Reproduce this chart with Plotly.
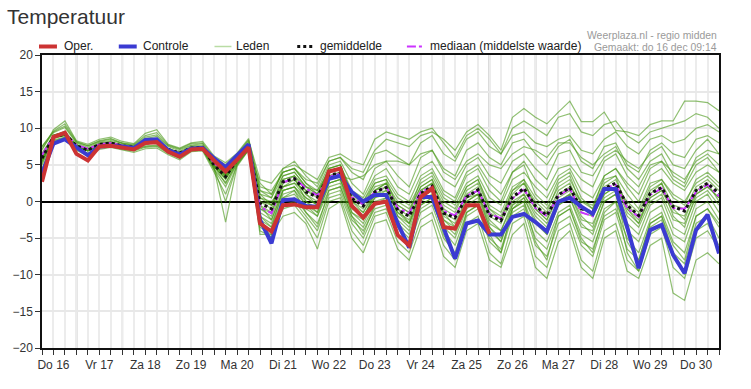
import plotly.graph_objects as go
import pandas as pd

# ---------------- data ----------------
dagen = ["Do 16", "Vr 17", "Za 18", "Zo 19", "Ma 20", "Di 21", "Wo 22", "Do 23",
         "Vr 24", "Za 25", "Zo 26", "Ma 27", "Di 28", "Wo 29", "Do 30"]
tijd = pd.date_range("2021-12-16 06:00", periods=60, freq="6h")
middag = pd.date_range("2021-12-16 12:00", periods=15, freq="D")
middernacht = pd.date_range("2021-12-17 00:00", periods=14, freq="D")

oper = [2.7, 8.8, 9.4, 6.5, 5.6, 7.5, 7.6, 7.4, 7.1, 8.0, 8.1, 6.8, 6.1, 7.1, 7.2, 5.6, 4.1, 5.7, 7.4,
        -3.0, -4.1, -0.5, -0.4, -0.8, -0.8, 4.1, 4.5, -0.6, -2.2, -0.3, 0.0, -4.6, -6.0, 0.6, 1.8,
        -3.5, -3.7, -0.5, -0.5, -4.4]
controle = [3.8, 7.9, 8.5, 7.4, 6.3, 7.5, 7.6, 7.5, 7.3, 8.4, 8.5, 7.0, 6.4, 7.2, 7.3, 5.9, 4.7, 6.3, 7.8,
            -2.5, -5.7, 0.2, 0.3, -0.6, -0.7, 3.1, 3.5, 1.3, 0.0, 0.9, 0.9, -3.0, -6.3, 0.6, 0.6,
            -3.6, -7.8, -3.0, -2.6, -4.5, -4.5, -2.1, -1.7, -2.8, -4.1, 0.0, 0.5, -0.7, -1.7, 1.7, 1.7,
            -3.5, -9.1, -3.9, -3.2, -7.3, -9.8, -3.9, -1.8, -7.1]
gemiddelde = [5.9, 8.8, 9.2, 7.6, 7.0, 7.8, 8.0, 7.6, 7.4, 8.0, 8.1, 7.1, 6.6, 7.3, 7.4, 5.0, 3.4, 5.7, 7.5,
              -0.2, -1.0, 2.7, 3.1, 1.3, 0.6, 3.6, 3.9, 0.4, -0.6, 1.3, 1.9, -1.2, -2.0, 1.1, 2.1,
              -1.6, -2.2, 0.6, 1.6, -1.9, -2.6, 0.6, 1.8, -0.6, -1.9, 0.9, 1.9, -1.0, -1.5, 1.8, 2.5,
              -0.5, -1.9, 1.1, 1.9, -0.7, -1.3, 1.5, 2.5, 1.1]
mediaan = [6.3, 8.9, 9.3, 7.7, 7.2, 7.8, 8.0, 7.6, 7.4, 8.0, 8.1, 7.0, 6.6, 7.3, 7.4, 5.2, 4.0, 5.8, 7.6,
           -0.7, -1.6, 2.6, 3.2, 1.8, 0.8, 3.4, 3.8, 0.6, -0.4, 1.3, 2.0, -0.9, -1.6, 1.3, 2.0,
           -1.3, -1.9, 0.8, 1.5, -1.7, -2.3, 0.4, 1.7, -0.9, -2.0, 0.7, 1.8, -1.5, -2.0, 1.8, 2.3,
           -0.9, -2.1, 0.9, 1.8, -0.9, -1.0, 1.3, 2.3, 0.7]

lid01 = [7.0, 9.8, 11.0, 8.3, 7.8, 8.5, 8.8, 8.2, 7.9, 9.3, 9.8, 7.8, 7.3, 8.0, 8.2, 6.2, 5.3, 6.6, 8.6,
         2.0, 1.5, 4.0, 4.5, 3.0, 2.5, 5.5, 6.0, 4.5, 4.0, 7.0, 8.5, 8.0, 7.5, 9.0, 9.5, 8.5, 7.0, 9.5, 10.5,
         9.0, 7.0, 11.5, 12.7, 11.5, 10.6, 12.2, 13.7, 10.9, 10.9, 12.2, 9.7, 9.5, 9.0, 10.5, 11.0,
         11.0, 13.7, 13.7, 13.5, 12.4]
lid02 = [7.5, 9.6, 10.6, 8.2, 7.6, 8.3, 8.6, 8.0, 7.8, 9.0, 9.4, 7.7, 7.2, 7.9, 8.0, 6.0, 5.0, 6.5, 8.4,
         3.0, 2.5, 4.5, 5.0, 4.0, 3.0, 6.0, 6.5, 5.5, 5.0, 8.5, 9.5, 9.0, 8.5, 9.5, 10.0, 8.0, 6.0, 9.0, 10.0,
         8.5, 6.5, 10.0, 11.0, 10.0, 9.0, 11.5, 12.0, 9.5, 9.0, 10.5, 11.0, 9.0, 8.0, 9.5, 10.0,
         10.5, 11.0, 12.0, 11.5, 10.0]
lid03 = [6.0, 9.0, 9.6, 7.7, 7.1, 7.9, 8.1, 7.6, 7.4, 8.1, 8.3, 7.2, 6.7, 7.4, 7.5, 5.3, 3.8, 5.8, 7.6,
         1.0, 0.5, 4.5, 5.5, 3.5, 2.0, 5.5, 6.0, 4.0, 3.0, 6.5, 7.0, 6.0, 5.0, 8.0, 9.0, 6.5, 5.5, 8.5, 9.5,
         7.5, 6.5, 9.0, 9.5, 8.0, 7.5, 8.5, 9.0, 7.0, 6.5, 8.5, 9.5, 7.5, 6.5, 8.5, 9.0,
         8.0, 8.5, 10.0, 10.5, 9.5]
lid04 = [5.5, 8.8, 9.2, 7.5, 6.9, 7.7, 7.9, 7.5, 7.3, 7.9, 8.0, 7.0, 6.5, 7.2, 7.3, 4.8, 3.0, 5.5, 7.4,
         2.5, 1.0, 4.0, 4.5, 2.5, 1.5, 5.0, 5.5, 2.5, 1.0, 4.5, 5.5, 3.5, 2.0, 6.0, 7.0, 4.5, 3.5, 7.0, 8.0,
         6.0, 5.0, 8.0, 8.5, 6.5, 5.0, 7.5, 8.5, 5.5, 4.5, 7.5, 8.0, 5.0, 4.0, 7.0, 8.0,
         6.5, 6.0, 8.5, 9.0, 8.0]
lid05 = [7.5, 9.5, 10.3, 8.1, 7.6, 8.2, 8.5, 7.9, 7.7, 8.8, 9.1, 7.6, 7.1, 7.7, 7.9, 5.7, 4.6, 6.3, 8.3,
         1.5, 0.5, 3.5, 4.0, 2.0, 1.0, 4.5, 5.0, 1.5, 0.5, 3.5, 4.5, 2.0, 1.0, 4.5, 5.5, 3.0, 2.0, 5.0, 6.0,
         3.5, 2.5, 5.5, 6.5, 4.5, 3.0, 6.5, 7.0, 4.0, 3.5, 6.0, 7.0, 5.5, 4.5, 6.5, 7.5,
         5.0, 4.5, 7.0, 8.5, 6.5]
lid06 = [4.2, 8.3, 8.7, 7.2, 6.5, 7.4, 7.6, 7.2, 7.0, 7.5, 7.6, 6.7, 6.1, 7.0, 7.1, 4.3, 2.0, 5.2, 7.1,
         1.0, -0.5, 3.5, 4.0, 2.0, 1.5, 4.0, 4.5, 1.0, 0.0, 3.0, 3.5, 1.0, 0.0, 3.5, 4.5, 1.5, 0.5, 4.0, 5.0,
         2.5, 1.0, 4.0, 5.5, 3.0, 1.5, 4.5, 5.0, 3.0, 2.0, 5.5, 6.5, 3.5, 2.0, 5.0, 5.5,
         4.0, 3.0, 5.5, 6.5, 5.0]
lid07 = [6.2, 9.0, 9.5, 7.6, 7.0, 7.8, 8.0, 7.6, 7.4, 8.0, 8.2, 7.1, 6.6, 7.3, 7.4, 5.2, 3.6, 5.8, 7.6,
         0.5, -0.5, 3.0, 3.5, 1.5, 0.5, 4.5, 5.0, 1.0, 0.0, 2.5, 3.0, 0.5, -0.5, 2.5, 3.5, 0.5, -0.5, 2.5, 3.5,
         0.5, -0.5, 3.0, 4.0, 2.0, 0.5, 3.5, 4.5, 1.5, 0.5, 3.5, 4.5, 2.0, 0.0, 3.5, 4.5,
         2.5, 1.5, 4.0, 5.0, 4.0]
lid08 = [5.8, 8.7, 9.1, 7.6, 7.0, 7.8, 8.0, 7.6, 7.4, 8.0, 8.1, 7.1, 6.6, 7.3, 7.4, 5.0, 3.5, 5.7, 7.5,
         0.0, -1.0, 3.0, 3.5, 2.0, 1.0, 4.0, 4.5, 0.5, -0.5, 2.0, 2.5, 0.0, -1.0, 2.0, 3.0, 0.0, -1.0, 2.0, 3.0,
         -0.5, -1.5, 2.0, 3.0, 0.5, -1.0, 2.0, 3.0, 0.0, -0.5, 3.0, 3.5, 1.0, -1.0, 2.5, 3.0,
         0.5, -0.5, 3.0, 4.0, 2.5]
lid09 = [6.0, 8.9, 9.3, 7.7, 7.1, 7.9, 8.1, 7.7, 7.5, 8.1, 8.2, 7.2, 6.7, 7.4, 7.5, 5.1, 3.7, 5.8, 7.6,
         -0.5, -1.5, 2.5, 3.0, 1.0, 0.0, 3.5, 4.0, 0.0, -1.0, 1.5, 2.0, -1.0, -2.0, 1.5, 2.5, -1.0, -2.0, 1.0, 2.0,
         -1.5, -2.5, 1.0, 2.5, -0.5, -2.0, 1.5, 2.5, -1.0, -1.5, 2.0, 3.0, -0.5, -2.0, 1.5, 2.5,
         -0.5, -1.0, 2.0, 3.0, 1.5]
lid10 = [5.0, 8.4, 8.8, 7.3, 6.6, 7.5, 7.7, 7.3, 7.1, 7.6, 7.7, 6.8, 6.2, 7.0, 7.1, 4.7, 3.2, 5.4, 7.2,
         -1.0, -2.0, 2.0, 2.5, 0.5, -0.5, 3.0, 3.5, -0.5, -1.5, 1.0, 1.5, -1.5, -2.5, 1.0, 2.0, -2.0, -3.0, 0.5, 1.5,
         -2.0, -3.0, 0.5, 1.5, -1.0, -2.5, 0.5, 1.5, -1.5, -2.0, 1.5, 2.0, -1.0, -2.5, 0.5, 1.5,
         -1.5, -2.0, 1.0, 2.0, 0.5]
lid11 = [6.4, 9.1, 9.4, 7.7, 7.1, 7.8, 8.0, 7.6, 7.4, 8.0, 8.1, 7.1, 6.6, 7.3, 7.4, 5.1, 3.9, 5.8, 7.6,
         -1.5, -2.5, 1.5, 2.0, 0.0, -1.0, 2.5, 3.0, -1.0, -2.0, 0.5, 1.0, -2.0, -3.5, 0.5, 1.5, -2.5, -3.5, 0.0, 1.0,
         -3.0, -4.0, 0.0, 1.0, -2.0, -3.5, 0.0, 1.0, -2.5, -3.0, 0.5, 1.5, -2.0, -3.5, 0.0, 1.0,
         -2.5, -3.0, 0.5, 1.5, -0.5]
lid12 = [4.5, 8.2, 8.6, 7.1, 6.4, 7.3, 7.5, 7.1, 6.9, 7.4, 7.5, 6.6, 5.9, 6.9, 7.0, 4.4, 2.6, 5.2, 7.1,
         -2.0, -3.0, 1.0, 1.5, -0.5, -1.5, 2.0, 2.5, -1.5, -3.0, 0.0, 0.5, -2.5, -4.0, 0.0, 1.0, -3.0, -4.5, -0.5, 0.5,
         -3.5, -5.0, -0.5, 0.5, -3.0, -4.5, -0.5, 0.5, -3.5, -4.0, 0.0, 1.0, -3.0, -4.5, -0.5, 0.5,
         -3.5, -4.5, 0.0, 1.0, -1.5]
lid13 = [6.6, 9.0, 9.4, 7.8, 7.2, 7.9, 8.1, 7.7, 7.5, 8.1, 8.3, 7.2, 6.7, 7.4, 7.5, 5.3, 4.3, 5.9, 7.7,
         -2.5, -3.5, 0.5, 1.0, -1.0, -2.0, 1.5, 2.0, -2.0, -3.5, -0.5, 0.0, -3.0, -4.5, -0.5, 0.5, -3.5, -5.0, -1.0, 0.0,
         -4.0, -5.5, -1.0, 0.0, -4.0, -5.5, -1.5, -0.5, -4.5, -5.5, -1.0, 0.0, -4.0, -5.5, -1.5, -0.5,
         -4.5, -5.5, -1.0, 0.0, -2.5]
lid14 = [4.3, 8.0, 8.4, 7.0, 6.2, 7.1, 7.4, 7.0, 6.7, 7.2, 7.3, 6.4, 5.7, 6.8, 6.9, 4.0, 1.0, 5.0, 7.0,
         -3.0, -4.0, 0.0, 0.5, -1.5, -3.0, 1.0, 1.5, -2.5, -4.0, -1.0, -0.5, -3.5, -5.0, -1.0, 0.0, -4.0, -6.0, -1.5, -0.5,
         -5.0, -6.5, -1.5, -0.5, -5.0, -6.5, -2.0, -1.0, -5.5, -6.5, -2.0, -1.0, -5.0, -7.0, -2.5, -1.5,
         -5.5, -7.0, -2.0, -1.0, -3.5]
lid15 = [6.3, 9.0, 9.4, 7.7, 7.1, 7.8, 8.0, 7.6, 7.4, 8.0, 8.1, 7.1, 6.6, 7.3, 7.4, 5.2, 4.0, 5.8, 7.6,
         -3.5, -4.5, -0.5, 0.0, -2.0, -4.0, 0.5, 1.0, -3.0, -5.0, -1.5, -1.0, -4.5, -6.0, -1.5, -0.5, -5.0, -7.0, -2.0, -1.0,
         -5.5, -7.0, -2.0, -1.0, -6.0, -7.5, -3.0, -2.0, -6.0, -7.5, -2.5, -1.5, -6.5, -8.0, -3.0, -2.0,
         -7.0, -8.5, -3.0, -2.0, -5.0]
lid16 = [5.4, 8.6, 9.0, 7.5, 6.9, 7.7, 7.9, 7.5, 7.3, 7.9, 8.0, 7.0, 6.5, 7.2, 7.3, 4.6, 0.0, 5.0, 7.1,
         -4.0, -4.8, -1.0, -0.5, -2.5, -5.0, 0.0, 0.5, -4.0, -6.0, -2.0, -1.5, -5.5, -7.0, -2.5, -1.5, -6.0, -8.0, -3.0, -2.0,
         -7.0, -8.5, -3.0, -2.0, -7.5, -9.0, -4.0, -3.0, -8.0, -9.5, -4.0, -3.0, -8.0, -9.5, -4.5, -3.5,
         -9.0, -10.5, -5.0, -4.0, -6.5]
lid17 = [6.1, 8.9, 9.3, 7.6, 7.0, 7.8, 8.0, 7.6, 7.4, 8.0, 8.1, 7.1, 6.6, 7.3, 7.4, 4.5, -2.8, 4.8, 7.0,
         -4.5, -4.5, -2.0, -1.5, -3.0, -6.5, -1.0, 0.0, -5.0, -7.0, -3.0, -2.5, -6.5, -8.0, -3.5, -2.5, -7.5, -9.0, -4.0, -3.0,
         -8.0, -9.0, -4.5, -3.0, -9.0, -10.5, -5.5, -4.0, -9.0, -10.5, -5.0, -4.0, -9.5, -10.5, -6.0, -5.0,
         -12.5, -13.5, -8.0, -7.0, -8.5]
lid18 = [5.7, 8.8, 9.2, 7.6, 7.0, 7.8, 8.0, 7.6, 7.4, 8.0, 8.1, 7.1, 6.6, 7.3, 7.4, 5.0, 3.3, 5.7, 7.5,
         0.5, 0.0, 2.0, 2.5, 1.5, 1.0, 3.0, 3.5, 3.0, 3.5, 5.0, 5.5, 5.5, 5.0, 6.5, 7.0, 4.0, 3.0, 5.5, 6.5,
         5.0, 4.5, 6.5, 7.5, 7.0, 6.0, 8.0, 8.0, 6.0, 5.0, 6.5, 7.5, 4.5, 3.0, 5.5, 6.5,
         3.5, 2.5, 6.0, 7.0, 6.5]
lid19 = [5.2, 8.7, 9.1, 7.5, 6.9, 7.7, 7.9, 7.5, 7.3, 7.9, 8.0, 7.0, 6.5, 7.2, 7.3, 4.9, 2.4, 5.5, 7.3,
         -2.0, -3.5, 1.5, 2.0, -0.5, -2.0, 2.5, 3.0, -1.5, -2.5, 1.5, 2.5, -0.5, -1.5, 3.0, 4.0, 1.0, 0.0, 3.5, 4.5,
         1.5, 0.0, 4.0, 5.0, 1.0, -0.5, 3.0, 4.0, 0.5, -1.0, 3.5, 4.5, 2.5, 1.0, 4.5, 5.5,
         3.0, 2.0, 5.0, 6.0, 4.0]
lid20 = [7.2, 9.4, 10.1, 8.0, 7.4, 8.1, 8.3, 7.9, 7.6, 8.6, 8.9, 7.5, 6.9, 7.6, 7.7, 5.6, 4.4, 6.2, 8.1,
         1.5, 1.0, 4.0, 4.5, 2.5, 1.0, 4.5, 5.0, 1.0, -0.5, 2.5, 3.0, -1.0, -3.0, 1.0, 2.0, -2.5, -4.0, 0.0, 1.0,
         -3.5, -5.5, -1.0, 0.5, -2.5, -4.5, -0.5, 0.5, -3.0, -4.5, 0.0, 1.0, -5.5, -8.0, -3.0, -2.0,
         -6.0, -8.0, -2.0, -1.0, -3.0]
lid21 = [5.9, 8.8, 9.2, 7.6, 7.0, 7.8, 8.0, 7.6, 7.4, 8.0, 8.1, 7.1, 6.6, 7.3, 7.4, 5.0, 3.4, 5.7, 7.5,
         -1.0, -1.5, 2.5, 3.5, 0.0, -1.5, 3.0, 3.5, 0.0, -1.5, 1.5, 2.5, -2.0, -3.0, 0.5, 1.5, -1.5, -2.5, 1.5, 2.5,
         -1.0, -2.0, 1.5, 2.5, 0.0, -1.5, 2.5, 3.5, -0.5, -2.0, 1.0, 2.0, 0.0, -1.5, 2.0, 3.0,
         1.0, 0.0, 2.5, 3.5, 2.0]
lid22 = [6.2, 9.0, 9.5, 7.7, 7.1, 7.9, 8.1, 7.7, 7.5, 8.1, 8.2, 7.2, 6.7, 7.4, 7.5, 5.2, 4.1, 5.9, 7.7,
         -0.5, -2.5, 1.5, 2.0, 0.5, -0.5, 3.5, 4.0, -0.5, -2.0, 0.5, 1.5, -0.5, -1.5, 2.0, 3.0, -1.5, -3.5, 0.5, 1.0,
         -2.5, -4.0, -0.5, 1.0, -1.5, -3.0, 0.0, 1.0, -2.0, -3.5, 1.0, 2.0, -1.5, -3.0, 0.5, 1.5,
         -1.0, -2.5, 1.5, 2.5, 0.0]
lid23 = [5.5, 8.7, 9.0, 7.5, 6.9, 7.7, 7.9, 7.5, 7.3, 7.9, 8.0, 7.0, 6.5, 7.2, 7.3, 4.8, 3.1, 5.6, 7.4,
         0.0, -0.5, 2.0, 3.0, 1.0, -0.5, 2.5, 3.0, -0.5, -2.5, 1.0, 2.0, -1.5, -3.0, 1.5, 2.5, -0.5, -1.5, 2.0, 3.0,
         -1.0, -2.5, 1.5, 3.0, -1.0, -2.5, 1.0, 2.0, 0.0, -1.0, 2.5, 3.5, -1.0, -3.0, 1.0, 2.5,
         -2.0, -3.5, 1.0, 2.0, 0.5]
lid24 = [6.0, 8.9, 9.3, 7.6, 7.0, 7.8, 8.0, 7.6, 7.4, 8.0, 8.1, 7.1, 6.6, 7.3, 7.4, 5.0, 3.6, 5.7, 7.5,
         -3.0, -5.0, 0.5, 1.5, -1.5, -3.5, 1.5, 2.0, -2.0, -4.5, -0.5, 0.5, -3.5, -6.0, -0.5, 0.5, -4.5, -7.5, -1.5, -0.5,
         -4.5, -7.0, -1.0, 0.0, -5.5, -8.0, -2.0, -1.0, -5.0, -7.0, -1.5, 0.0, -7.0, -9.5, -3.5, -2.5,
         -7.5, -10.0, -4.0, -3.0, -6.0]

leden = [lid01, lid02, lid03, lid04, lid05, lid06, lid07, lid08, lid09, lid10, lid11, lid12,
         lid13, lid14, lid15, lid16, lid17, lid18, lid19, lid20, lid21, lid22, lid23, lid24]

# ---------------- figure ----------------
ROOD = "#cc3333"
BLAUW = "#3b3bd2"
GROEN = "rgba(70,150,20,0.6)"
MAGENTA = "#cc33ff"
ZWART = "#111111"

fig = go.Figure()
for lid in leden:
    fig.add_trace(go.Scatter(x=tijd, y=lid, mode="lines", hoverinfo="skip",
                             line=dict(color=GROEN, width=1.2), showlegend=False))
fig.add_trace(go.Scatter(x=tijd, y=mediaan, mode="lines", hoverinfo="skip",
                         line=dict(color=MAGENTA, width=2, dash="dashdot"), showlegend=False))
fig.add_trace(go.Scatter(x=tijd, y=gemiddelde, mode="lines", hoverinfo="skip",
                         line=dict(color=ZWART, width=3, dash="dot"), showlegend=False))
fig.add_trace(go.Scatter(x=tijd, y=controle, mode="lines", hoverinfo="skip",
                         line=dict(color=BLAUW, width=4), showlegend=False))
fig.add_trace(go.Scatter(x=tijd[:len(oper)], y=oper, mode="lines", hoverinfo="skip",
                         line=dict(color=ROOD, width=4), showlegend=False))

L, R, T, B, W, H = 40, 32, 55, 41, 751, 389
PW, PH = W - L - R, H - T - B


def px_x(p):
    return (p - L) / PW


def px_y(p):
    return (H - B - p) / PH


shapes = []
for d in middernacht:
    shapes.append(dict(type="line", xref="x", yref="paper", x0=d, x1=d, y0=0, y1=1,
                       line=dict(color="#6a6a6a", width=1.5), layer="between"))

legenda = [
    ("Oper.", 37, 55, 60, dict(color=ROOD, width=4)),
    ("Controle", 117, 135, 139, dict(color=BLAUW, width=4)),
    ("Leden", 213, 230, 233, dict(color="#b9dca4", width=1.5)),
    ("gemiddelde", 296, 312, 317, dict(color=ZWART, width=3, dash="dot")),
    ("mediaan (middelste waarde)", 406, 422, 427, dict(color=MAGENTA, width=2, dash="dashdot")),
]
annotations = []
ly = 46.5
for naam, s0, s1, tx, stijl in legenda:
    shapes.append(dict(type="line", xref="paper", yref="paper", x0=px_x(s0), x1=px_x(s1),
                       y0=px_y(ly), y1=px_y(ly), line=stijl))
    annotations.append(dict(text=naam, xref="paper", yref="paper", x=px_x(tx), y=px_y(ly),
                            xanchor="left", yanchor="middle", showarrow=False,
                            font=dict(size=12, color="#222")))

annotations.append(dict(text="Weerplaza.nl - regio midden", xref="paper", yref="paper",
                        x=px_x(719), y=px_y(36), xanchor="right", yanchor="middle", showarrow=False,
                        font=dict(size=10.4, color="#9a9a9a")))
annotations.append(dict(text="Gemaakt: do 16 dec 09:14", xref="paper", yref="paper",
                        x=px_x(719), y=px_y(47.5), xanchor="right", yanchor="middle", showarrow=False,
                        font=dict(size=10.4, color="#9a9a9a")))

fig.update_layout(
    width=W, height=H,
    margin=dict(l=L, r=R, t=T, b=B, pad=0),
    plot_bgcolor="white", paper_bgcolor="white",
    showlegend=False, hovermode=False,
    font=dict(family="Liberation Sans, Arial, sans-serif", size=12, color="#333"),
    title=dict(text="Temperatuur", x=7 / W, xref="container", xanchor="left",
               y=1 - 17 / H, yref="container", yanchor="middle",
               font=dict(size=21, color="#333")),
    shapes=shapes, annotations=annotations,
)
fig.update_xaxes(
    range=[tijd[0], tijd[-1]],
    tickmode="array", tickvals=middag, ticktext=dagen,
    ticks="outside", ticklen=5, tickcolor="#333", tickwidth=1,
    showgrid=True, gridcolor="#ececec", gridwidth=2,
    minor=dict(dtick=6 * 3600 * 1000, tick0="2021-12-16 00:00", ticks="outside", ticklen=5,
               tickcolor="#333", tickwidth=1, showgrid=True, gridcolor="#ececec", gridwidth=2),
    showline=True, linecolor="#111", linewidth=2, mirror=True, zeroline=False,
    tickfont=dict(size=12, color="#333"),
)
fig.update_yaxes(
    range=[-20, 20], tick0=0, dtick=5,
    ticks="outside", ticklen=5, tickcolor="#333", tickwidth=1,
    showgrid=True, gridcolor="#e8e8e8", gridwidth=2,
    zeroline=True, zerolinecolor="#000", zerolinewidth=2,
    showline=True, linecolor="#111", linewidth=1.5, mirror=True,
    tickfont=dict(size=12, color="#333"),
)

fig.write_html("out.html", config={"displayModeBar": False},
               post_script="document.body.style.margin='0';document.body.style.overflow='hidden';")
